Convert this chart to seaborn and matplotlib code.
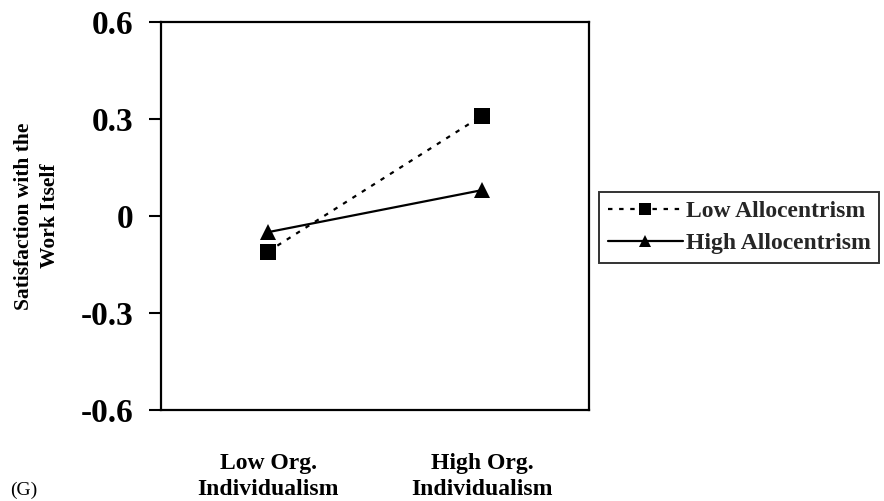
import matplotlib
matplotlib.use("Agg")
import matplotlib.pyplot as plt
import seaborn as sns
import pandas as pd

categories = ["Low Org.\nIndividualism", "High Org.\nIndividualism"]
series_names = ["Low Allocentrism", "High Allocentrism"]
low_allocentrism = [-0.11, 0.31]
high_allocentrism = [-0.05, 0.08]
y_ticks = [-0.6, -0.3, 0.0, 0.3, 0.6]
y_tick_labels = ["-0.6", "-0.3", "0", "0.3", "0.6"]
y_label = "Satisfaction with the\nWork Itself"
panel_tag = "(G)"

df = pd.DataFrame({
    "x": list(range(len(categories))) * 2,
    "y": low_allocentrism + high_allocentrism,
    "group": [series_names[0]] * len(categories) + [series_names[1]] * len(categories),
})

sns.set_theme(style="white")
plt.rcParams["font.family"] = ["Liberation Serif", "DejaVu Serif"]
plt.rcParams["font.weight"] = "bold"

fig = plt.figure(figsize=(8.84, 5.01), dpi=100)
ax = fig.add_axes([161 / 884, 1 - 410 / 501, 428 / 884, 388 / 501])

sns.lineplot(
    data=df, x="x", y="y", hue="group", style="group",
    hue_order=series_names, style_order=series_names,
    palette=["black", "black"],
    markers={series_names[0]: "s", series_names[1]: "^"},
    dashes={series_names[0]: (2, 3), series_names[1]: ""},
    markersize=11, linewidth=1.6, markeredgewidth=0,
    ax=ax, legend=True,
)

handles, labels = ax.get_legend_handles_labels()
ax.get_legend().remove()

ax.set_xlim(-0.5, 1.5)
ax.set_ylim(-0.6, 0.6)
ax.set_xticks(range(len(categories)))
ax.set_xticklabels(categories, fontsize=17, fontweight="bold", linespacing=1.3)
ax.set_yticks(y_ticks)
ax.set_yticklabels(y_tick_labels, fontsize=24, fontweight="bold")
ax.tick_params(axis="x", length=0, pad=31, colors="black")
ax.tick_params(axis="y", length=9, width=1.5, pad=11, direction="out", left=True, colors="black")
ax.set_xlabel("")
ax.set_ylabel(y_label, fontsize=15.5, fontweight="bold", labelpad=15, color="black", linespacing=1.35)
for s in ax.spines.values():
    s.set_color("black")
    s.set_linewidth(1.6)

leg = fig.legend(
    handles, labels, loc="center", bbox_to_anchor=(739 / 884, 1 - 227.5 / 501),
    frameon=True, fancybox=False, shadow=False, edgecolor="black",
    prop={"family": "Liberation Serif", "weight": "bold", "size": 17},
    handlelength=3.2, handletextpad=0.1, borderpad=0.35, labelspacing=0.45,
    borderaxespad=0,
)
leg.get_frame().set_linewidth(1.4)
for h in leg.legend_handles:
    h.set_markersize(8)

fig.text(10 / 884, 1 - 495 / 501, panel_tag, fontsize=14, fontweight="normal",
         ha="left", va="baseline", color="black")

fig.savefig("out.png", dpi=100)
